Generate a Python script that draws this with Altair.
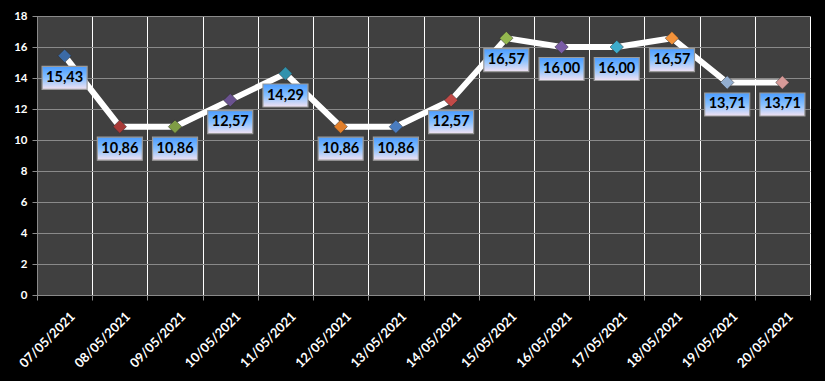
import altair as alt
import pandas as pd

dates = ["07/05/2021", "08/05/2021", "09/05/2021", "10/05/2021", "11/05/2021",
         "12/05/2021", "13/05/2021", "14/05/2021", "15/05/2021", "16/05/2021",
         "17/05/2021", "18/05/2021", "19/05/2021", "20/05/2021"]
values = [15.43, 10.86, 10.86, 12.57, 14.29, 10.86, 10.86, 12.57,
          16.57, 16.00, 16.00, 16.57, 13.71, 13.71]
marker_colors = ["#3b6aa6", "#a83a37", "#7f9c45", "#6a5290", "#3192ad", "#e27f2a",
                 "#4a7cbf", "#c24a47", "#94b84f", "#7a5ca6", "#3eaccb", "#f3923a",
                 "#93aed0", "#d79a98"]
y_ticks = list(range(0, 19, 2))

df = pd.DataFrame({
    "date": dates,
    "value": values,
    "label": [f"{v:.2f}".replace(".", ",") for v in values],
})

x_enc = alt.X("date:O", sort=dates,
              scale=alt.Scale(type="band", paddingInner=0, paddingOuter=0),
              bandPosition=0.5,
              axis=alt.Axis(title=None, labelAngle=-45, labelAlign="right",
                            labelBaseline="middle", labelOffset=8, labelPadding=14,
                            labelColor="white", labelFontWeight="bold",
                            labelFontSize=13, labelFont="Lato",
                            tickSize=5, tickColor="#8a8a8a", domainColor="#8a8a8a",
                            gridColor="#ffffff", gridWidth=1, grid=True,
                            tickBand="extent"))
y_enc = alt.Y("value:Q", scale=alt.Scale(domain=[0, 18], nice=False),
              axis=alt.Axis(title=None, values=y_ticks, labelColor="white",
                            labelFontWeight="bold", labelFontSize=11.5, labelFont="Lato",
                            tickSize=5, tickColor="#8a8a8a", domainColor="#8a8a8a",
                            gridColor="#8a8a8a", gridWidth=1, labelPadding=5))

base = alt.Chart(df).encode(x=x_enc, y=y_enc)

line = base.mark_line(color="white", strokeWidth=6)

points = base.mark_point(shape="diamond", filled=True, size=180, opacity=1,
                         stroke="#2a2a2a", strokeWidth=0.5).encode(
    color=alt.Color("date:N", scale=alt.Scale(domain=dates, range=marker_colors),
                    legend=None))

box_fill = alt.Gradient(gradient="linear", x1=0, y1=0, x2=0, y2=1,
                        stops=[alt.GradientStop(color="#4a9cff", offset=0),
                               alt.GradientStop(color="#86c0ff", offset=0.5),
                               alt.GradientStop(color="#f2e2f2", offset=1)])

boxes = base.mark_point(shape="M-1,-0.511L1,-0.511L1,0.511L-1,0.511Z",
                        filled=True, size=2025, fill=box_fill, opacity=1,
                        stroke="#9a9a9a", strokeWidth=1.2, yOffset=22)

texts = base.mark_text(font="Lato", fontWeight="bold", fontSize=14.5, color="black",
                       yOffset=22, baseline="middle", align="center").encode(
    text="label:N")

chart = alt.layer(line, points, boxes, texts).properties(
    width=773, height=279,
    padding={"left": 37, "top": 16, "right": 15, "bottom": 86},
    autosize="none",
    background="black",
).configure_view(fill="#404040", strokeWidth=0)

chart.save("out.html", embed_options={"renderer": "svg", "actions": False})
